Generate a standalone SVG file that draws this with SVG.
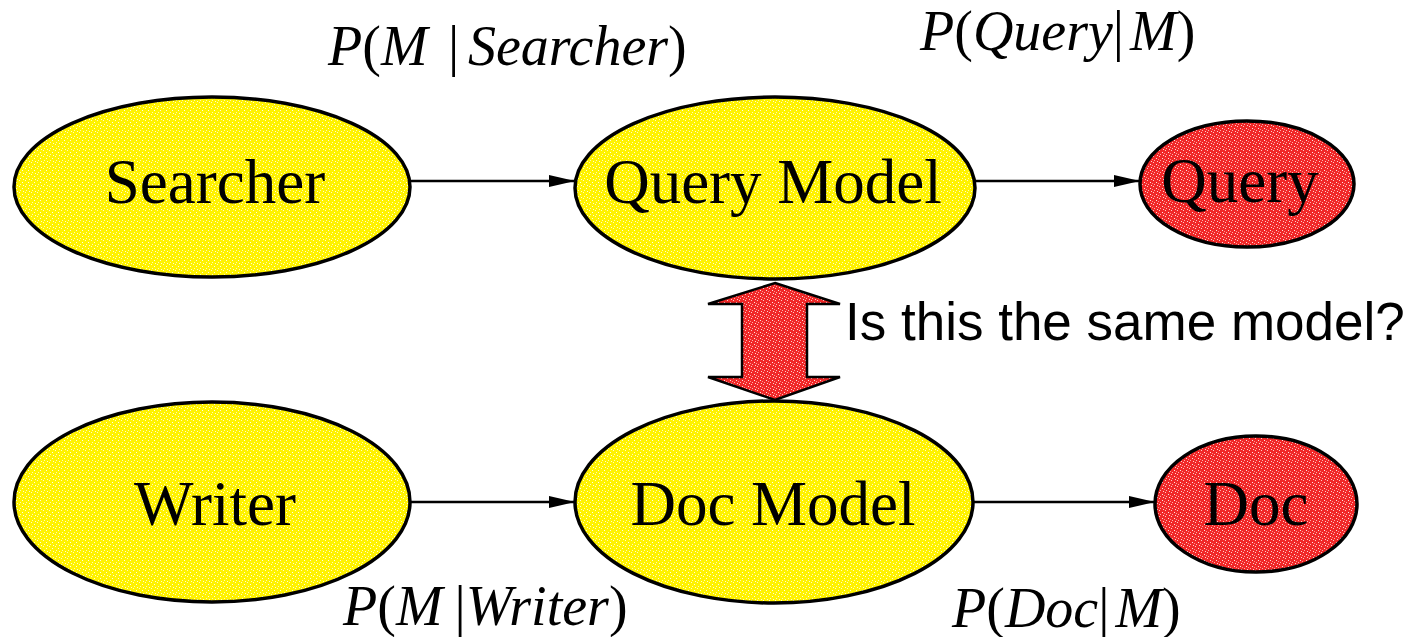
<svg xmlns="http://www.w3.org/2000/svg" width="1411" height="637" viewBox="0 0 1411 637">
<defs>
<pattern id="ytex" width="6" height="6" patternUnits="userSpaceOnUse">
<rect width="6" height="6" fill="#FFF200"/>
<rect x="1" y="0" width="1" height="1" fill="#FFFFC0"/>
<rect x="4" y="2" width="1" height="1" fill="#FFFFE0"/>
<rect x="2" y="4" width="1" height="1" fill="#FFFFB0"/>
<rect x="5" y="5" width="1" height="1" fill="#FFFFD0"/>
</pattern>
<pattern id="rtex" width="6" height="6" patternUnits="userSpaceOnUse">
<rect width="6" height="6" fill="#F02828"/>
<rect x="1" y="0" width="1" height="1" fill="#FFC8C8"/>
<rect x="4" y="2" width="1" height="1" fill="#FFE0E0"/>
<rect x="2" y="4" width="1" height="1" fill="#FFB0B0"/>
<rect x="5" y="5" width="1" height="1" fill="#FFD0D0"/>
<rect x="0" y="3" width="1" height="1" fill="#FF9090"/>
</pattern>
<marker id="ah" markerWidth="26" markerHeight="12" refX="26" refY="6" orient="auto" markerUnits="userSpaceOnUse">
<path d="M0,0 L26,6 L0,12 Z" fill="#000"/>
</marker>
</defs>
<style>
.y{fill:url(#ytex);stroke:#000;stroke-width:3.5}
.r{fill:url(#rtex);stroke:#000;stroke-width:3.5}
.lbl{font-family:"Liberation Serif","Times New Roman",serif;font-size:63px;fill:#000;text-anchor:middle}
.m{font-family:"Liberation Serif","Times New Roman",serif;font-size:56px;fill:#000}
.i{font-style:italic}
.q{font-family:"Liberation Sans",Arial,sans-serif;font-size:53px;fill:#000}
.c{stroke:#000;stroke-width:2.5;fill:none;marker-end:url(#ah)}
</style>
<g id="connectors">
<line class="c" x1="411" y1="181" x2="575" y2="181"/>
<line class="c" x1="975" y1="181" x2="1140" y2="181"/>
<line class="c" x1="411" y1="502" x2="575" y2="502"/>
<line class="c" x1="973" y1="502" x2="1155" y2="502"/>
<polygon points="775,283 840,304 807,304 807,377 840,377 775,400 708,377 742,377 742,304 708,304" fill="url(#rtex)" stroke="#000" stroke-width="2.5"/>
</g>
<g id="searcher">
<ellipse class="y" cx="212" cy="187" rx="198" ry="90"/>
<text class="lbl" x="215" y="203">Searcher</text>
</g>
<g id="query-model">
<ellipse class="y" cx="775" cy="188" rx="200" ry="91"/>
<text class="lbl" x="773" y="203">Query Model</text>
</g>
<g id="query">
<ellipse class="r" cx="1247" cy="184" rx="107" ry="63"/>
<text class="lbl" x="1240" y="202">Query</text>
</g>
<g id="writer">
<ellipse class="y" cx="212" cy="502" rx="198" ry="100"/>
<text class="lbl" x="215" y="525">Writer</text>
</g>
<g id="doc-model">
<ellipse class="y" cx="774" cy="502" rx="199" ry="101"/>
<text class="lbl" x="773" y="525">Doc Model</text>
</g>
<g id="doc">
<ellipse class="r" cx="1256" cy="504" rx="101" ry="68"/>
<text class="lbl" x="1256" y="525">Doc</text>
</g>
<g id="labels">
<text class="m" x="328" y="65"><tspan class="i">P</tspan>(<tspan class="i">M</tspan><tspan x="448">|</tspan><tspan x="468" class="i">Searcher</tspan>)</text>
<text class="m" x="920" y="50"><tspan class="i">P</tspan>(<tspan class="i">Query</tspan>|<tspan dx="6" class="i">M</tspan>)</text>
<text class="m" x="343" y="625"><tspan class="i">P</tspan>(<tspan class="i">M</tspan><tspan dx="12">|</tspan><tspan class="i">Writer</tspan>)</text>
<text class="m" x="952" y="627"><tspan class="i">P</tspan>(<tspan class="i">Doc</tspan>|<tspan dx="6" class="i">M</tspan>)</text>
<text class="q" x="845" y="340">Is this the same model?</text>
</g>
</svg>
